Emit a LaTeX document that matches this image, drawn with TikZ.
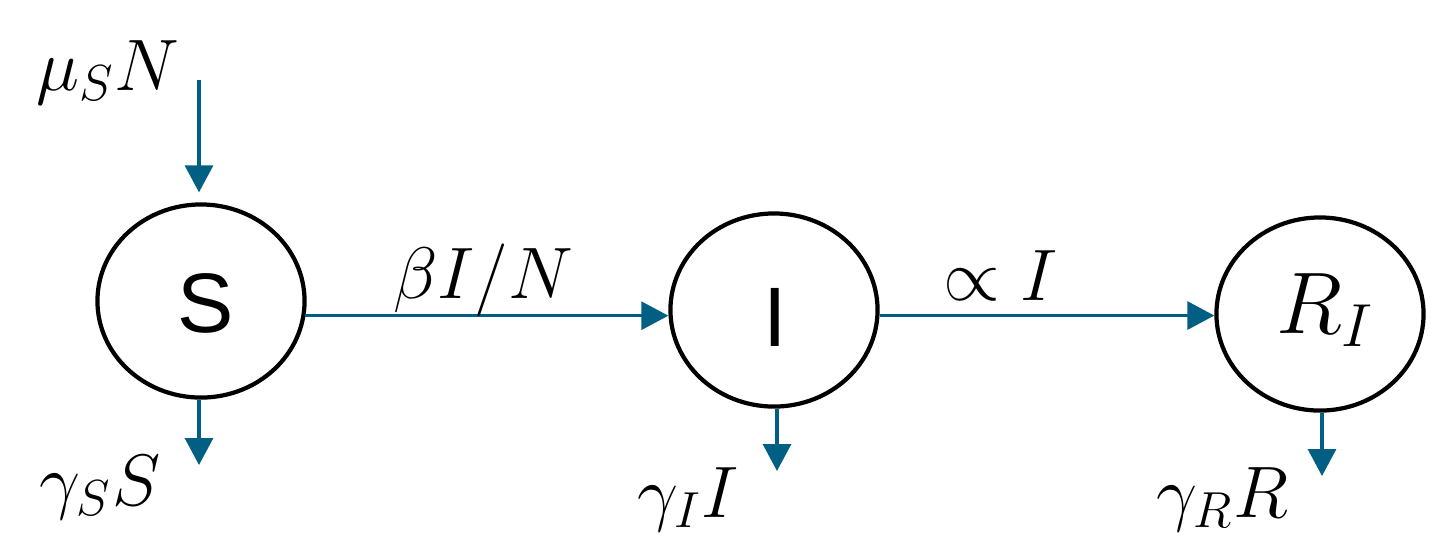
\documentclass[tikz,border=0pt]{standalone}
\usepackage{fontspec}
\newfontfamily\arialf{Liberation Sans}
\usetikzlibrary{shapes.geometric,arrows.meta}
\definecolor{flowblue}{RGB}{0,95,130}
\tikzset{
  comp/.style={ellipse, draw=black, line width=1.2pt, minimum width=2.07cm, minimum height=1.93cm, inner sep=0pt},
  flow/.style={draw=flowblue, line width=0.9pt, -{Triangle[length=2.7mm,width=2.8mm]}},
  mlab/.style={inner sep=0pt, font=\fontsize{22}{26}\selectfont},
  clab/.style={inner sep=0pt, font=\arialf\fontsize{24}{28}\selectfont}
}
\begin{document}
\begin{tikzpicture}[x=0.01cm,y=-0.01cm]
\useasboundingbox (0,0) rectangle (1451,553);
% compartments
\node[comp] (S) at (201,301) {};
\node[comp] (I) at (774,310) {};
\node[comp] (R) at (1320,314) {};
\node[clab] (St) at (206,303) {S};
\node[clab] (It) at (775,317) {I};
\node[mlab, anchor=base, font=\fontsize{25}{30}\selectfont] (Rt) at (1325,333) {$R_I$};
% flows
\coordinate (inS) at (199,80);
\coordinate (outS) at (199,465);
\coordinate (outI) at (777,471);
\coordinate (outR) at (1322,476);
\draw[flow, shorten >=1mm] (inS) -- (inS |- S.north);
\draw[flow] (S.south -| outS) -- (outS);
\draw[flow] (I.south -| outI) -- (outI);
\draw[flow] (R.south -| outR) -- (outR);
\draw[flow] (S.-8.5) -- (S.-8.5 -| I.west);
\draw[flow] (I.-3.3) -- (I.-3.3 -| R.west);
% labels
\node[mlab, anchor=base] (lmu) at (108,90) {$\mu_S N$};
\node[mlab, anchor=base] (lbeta) at (483,298) {$\beta I/N$};
\node[mlab, anchor=base] (lprop) at (1001,300) {$\propto I$};
\node[mlab, anchor=base] (lgS) at (100,505) {$\gamma_S S$};
\node[mlab, anchor=base] (lgI) at (688,517) {$\gamma_I I$};
\node[mlab, anchor=base] (lgR) at (1222,517) {$\gamma_R R$};
\end{tikzpicture}
\end{document}
